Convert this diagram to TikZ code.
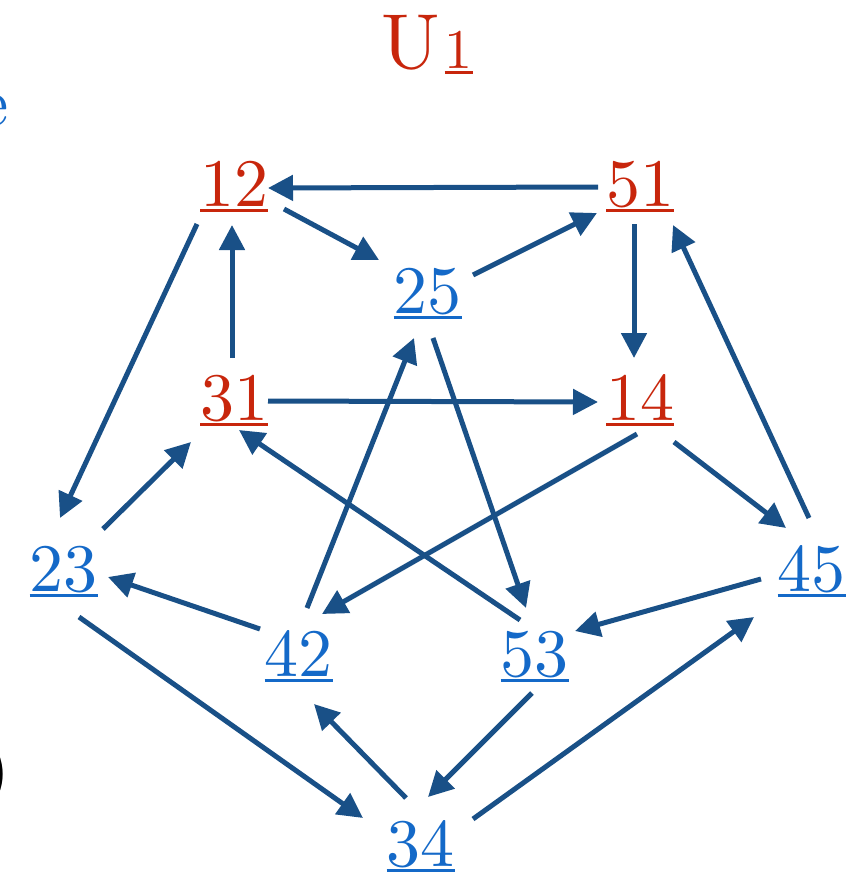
\documentclass[tikz,border=0pt]{standalone}
\usepackage{fontspec}
\setmainfont{lmroman10-regular}[Extension=.otf]
\usetikzlibrary{arrows.meta}
\definecolor{nred}{RGB}{200,38,12}
\definecolor{nblue}{RGB}{20,105,200}
\definecolor{arrc}{RGB}{25,80,135}
\newcommand\myul[1]{\setbox0\hbox{#1}\rlap{\rule[-6pt]{\wd0}{3pt}}\box0}
\tikzset{
  num/.style={inner sep=0pt, anchor=base, font=\fontsize{68}{80}\selectfont},
  rednum/.style={num, text=nred},
  bluenum/.style={num, text=nblue},
  arr/.style={draw=arrc, line width=5pt, -{Triangle[length=25pt,width=25pt]}, fill=arrc}
}
\begin{document}
\begin{tikzpicture}[x=1pt,y=-1pt]
\useasboundingbox (0,0) rectangle (854,875);
% partial texts at left edge
\node[inner sep=0pt, anchor=base east, text=nblue, font=\fontsize{68}{80}\selectfont] (cute) at (9,125) {e};
\node[inner sep=0pt, anchor=base east, text=black, font=\fontsize{68}{80}\selectfont] (cutp) at (10,791) {)};
% title
\node[inner sep=0pt, anchor=base west, text=nred] (title) at (381,68) {\fontsize{78}{90}\selectfont U\hspace{5pt}\fontsize{56}{66}\selectfont\myul{1}};
% nodes
\node[rednum]  (n12) at (234,206)   {\myul{12}};
\node[rednum]  (n51) at (640,206)   {\myul{51}};
\node[bluenum] (n25) at (427.5,313) {\myul{25}};
\node[rednum]  (n31) at (234,420)   {\myul{31}};
\node[rednum]  (n14) at (640,420)   {\myul{14}};
\node[bluenum] (n23) at (63.5,591)  {\myul{23}};
\node[bluenum] (n45) at (811.5,591) {\myul{45}};
\node[bluenum] (n42) at (298.5,676) {\myul{42}};
\node[bluenum] (n53) at (534.5,676) {\myul{53}};
\node[bluenum] (n34) at (420.5,866) {\myul{34}};
% arrows
\draw[arr] ([shift={(-42,-19)}]n51.base) -- ([shift={(34,-18)}]n12.base);
\draw[arr] ([shift={(50,3)}]n12.base) -- ([shift={(-48.5,-53)}]n25.base);
\draw[arr] ([shift={(45.5,-38)}]n25.base) -- ([shift={(-43,7)}]n51.base);
\draw[arr] ([shift={(-6,18)}]n51.base) -- ([shift={(-6,-62)}]n14.base);
\draw[arr] ([shift={(-2,-62)}]n31.base) -- ([shift={(-2,19)}]n12.base);
\draw[arr] ([shift={(34,-19)}]n31.base) -- ([shift={(-42,-18)}]n14.base);
\draw[arr] ([shift={(-37,18)}]n12.base) -- ([shift={(-3.5,-73)}]n23.base);
\draw[arr] ([shift={(39.5,-62)}]n23.base) -- ([shift={(-43,22)}]n31.base);
\draw[arr] ([shift={(8.5,-68)}]n42.base) -- ([shift={(-13.5,25)}]n25.base);
\draw[arr] ([shift={(5.5,25)}]n25.base) -- ([shift={(-8.5,-68)}]n53.base);
\draw[arr] ([shift={(-3,14)}]n14.base) -- ([shift={(23.5,-62)}]n42.base);
\draw[arr] ([shift={(-14.5,-56)}]n53.base) -- ([shift={(5,10)}]n31.base);
\draw[arr] ([shift={(34,22)}]n14.base) -- ([shift={(-25.5,-63)}]n45.base);
\draw[arr] ([shift={(-2.5,-73)}]n45.base) -- ([shift={(33,19)}]n51.base);
\draw[arr] ([shift={(-38.5,-47)}]n42.base) -- ([shift={(44.5,-14)}]n23.base);
\draw[arr] ([shift={(-50.5,-12)}]n45.base) -- ([shift={(40.5,-45)}]n53.base);
\draw[arr] ([shift={(15.5,26)}]n23.base) -- ([shift={(-57.5,-48)}]n34.base);
\draw[arr] ([shift={(-14.5,-68)}]n34.base) -- ([shift={(15.5,28)}]n42.base);
\draw[arr] ([shift={(-2.5,17)}]n53.base) -- ([shift={(7.5,-69)}]n34.base);
\draw[arr] ([shift={(52.5,-47)}]n34.base) -- ([shift={(-57.5,26)}]n45.base);
\end{tikzpicture}
\end{document}
